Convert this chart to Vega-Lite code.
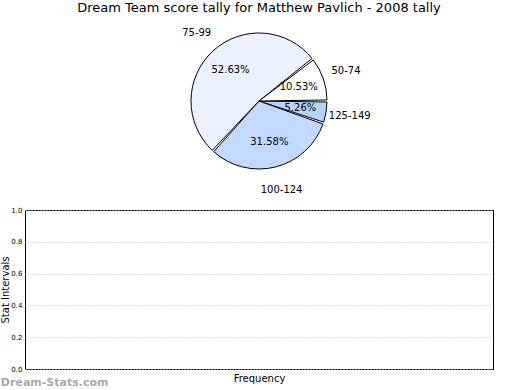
{
  "$schema": "https://vega.github.io/schema/vega-lite/v6.json",
  "padding": {"left": 0, "top": 2, "right": 0, "bottom": 0},
  "spacing": 9,
  "config": {
    "font": "DejaVu Sans",
    "view": {"stroke": null},
    "title": {"font": "DejaVu Sans", "fontWeight": "normal"},
    "axis": {"labelFont": "DejaVu Sans", "titleFont": "DejaVu Sans", "titleFontWeight": "normal"}
  },
  "vconcat": [
    {
      "width": 468,
      "height": 160,
      "title": {"text": "Dream Team score tally for Matthew Pavlich - 2008 tally", "fontSize": 13, "color": "#000", "offset": 6},
      "data": {"values": [
        {"range": "125-149", "count": 1, "label": "5.26%", "k": 1},
        {"range": "100-124", "count": 6, "label": "31.58%", "k": 2},
        {"range": "75-99", "count": 10, "label": "52.63%", "k": 3},
        {"range": "50-74", "count": 2, "label": "10.53%", "k": 4}
      ]},
      "encoding": {
        "theta": {"field": "count", "type": "quantitative", "stack": true, "scale": {"range": [1.5708, 7.854]}},
        "order": {"field": "k", "type": "quantitative"}
      },
      "layer": [
        {
          "mark": {"type": "arc", "stroke": "#000", "strokeWidth": 1, "padAngle": 0.03, "outerRadius": 68},
          "encoding": {
            "color": {"field": "range", "type": "nominal", "legend": null,
              "scale": {"domain": ["50-74", "75-99", "100-124", "125-149"], "range": ["#ffffff", "#eaf2ff", "#c3d9ff", "#b3d4ff"]}}
          }
        },
        {
          "mark": {"type": "text", "radius": 42, "fontSize": 10, "color": "#000"},
          "encoding": {"text": {"field": "label", "type": "nominal"}}
        },
        {
          "mark": {"type": "text", "radius": 92, "fontSize": 10, "color": "#000"},
          "encoding": {"text": {"field": "range", "type": "nominal"}}
        }
      ]
    },
    {
      "width": 468,
      "height": 159,
      "view": {"stroke": "#000", "strokeWidth": 1},
      "title": {"text": "Dream-Stats.com", "orient": "bottom", "anchor": "start", "frame": "bounds", "fontSize": 11, "fontWeight": "bold", "color": "#aaaaaa", "offset": -6},
      "data": {"values": []},
      "mark": "point",
      "encoding": {
        "x": {"field": "frequency", "type": "quantitative", "scale": {"domain": [0, 1]},
          "axis": {"title": "Frequency", "labels": false, "ticks": false, "grid": false, "domain": false, "titleFontSize": 10, "titlePadding": 4, "titleColor": "#000"}},
        "y": {"field": "interval", "type": "quantitative", "scale": {"domain": [0, 1], "nice": false},
          "axis": {"title": "Stat Intervals", "values": [0, 0.2, 0.4, 0.6, 0.8, 1.0], "format": ".1f", "labelFontSize": 7, "labelColor": "#000", "ticks": false, "labelPadding": 3, "domain": false,
            "grid": true, "gridDash": [1, 2], "gridColor": "#bbbbbb", "titleFontSize": 10, "titlePadding": 0, "titleColor": "#000"}}
      }
    }
  ]
}
